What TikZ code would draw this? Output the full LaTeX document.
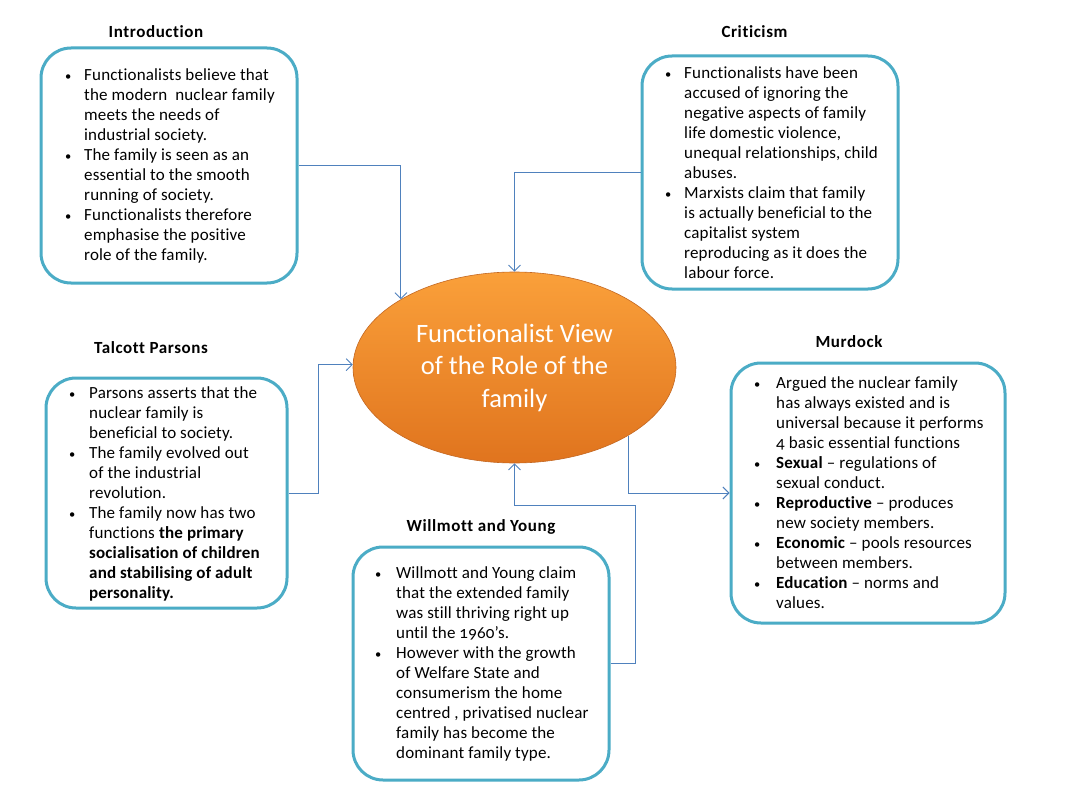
\documentclass[tikz,border=0pt]{standalone}
\usepackage{fontspec}
\setmainfont{Carlito}[Numbers=OldStyle,Ligatures=NoCommon]
\usetikzlibrary{shapes.geometric,arrows.meta}
\definecolor{boxc}{RGB}{75,172,198}
\definecolor{linec}{RGB}{79,129,189}
\definecolor{orT}{RGB}{250,160,58}
\definecolor{orB}{RGB}{224,116,30}
\definecolor{orD}{RGB}{196,104,34}
\newcommand\bu[1]{\llap{\makebox[#1]{\fontsize{12.5}{12}\selectfont\textbullet}}}
\newcommand\fl{\rule{0pt}{14pt}}
\begin{document}
\begin{tikzpicture}[x=1pt,y=-1pt,
  box/.style={draw=boxc,line width=3pt,rounded corners=30pt,inner sep=0pt},
  body/.style={anchor=north west,align=left,inner sep=0pt,font=\fontsize{17}{20}\selectfont\addfontfeature{LetterSpace=1}},
  title/.style={inner sep=0pt,font=\fontsize{17}{20}\selectfont\bfseries\addfontfeature{LetterSpace=3.5}},
  ell/.style={ellipse,minimum width=323pt,minimum height=191pt,inner sep=0pt,
    top color=orT,bottom color=orB,draw=orD,line width=0.6pt,text=white,
    align=center,font=\fontsize{26.5}{32.5}\selectfont},
  conn/.style={draw=linec,line width=0.9pt,-{Straight Barb[length=6pt,width=12pt]}}]
\fill[white] (0,0) rectangle (1080,808);
\useasboundingbox (0,0) rectangle (1080,808);

% boxes
\node[box,minimum width=256pt,minimum height=235pt] (intro) at (169,165.5) {};
\node[box,minimum width=256pt,minimum height=233pt] (crit) at (770,172.5) {};
\node[box,minimum width=241pt,minimum height=230pt] (talc) at (166.5,493) {};
\node[box,minimum width=274pt,minimum height=260pt] (murd) at (868,493) {};
\node[box,minimum width=256pt,minimum height=233pt] (will) at (481,663.5) {};

% titles
\node[title] (tintro) at (156,32) {Introduction};
\node[title] (tcrit) at (754.5,32) {Criticism};
\node[title] (ttalc) at (151,348) {Talcott Parsons};
\node[title] (tmurd) at (849,342) {Murdock};
\node[title] (twill) at (481,527) {Willmott and Young};

% body texts
\node[body] (xintro) at (84,66) {\fl\bu{32pt}Functionalists believe that\\
the modern \ nuclear family\\
meets the needs of\\
industrial society.\\
\bu{32pt}The family is seen as an\\
essential to the smooth\\
running of society.\\
\bu{32pt}Functionalists therefore\\
emphasise the positive\\
role of the family.};

\node[body] (xcrit) at (684,64) {\fl\bu{32pt}Functionalists have been\\
accused of ignoring the\\
negative aspects of family\\
life domestic violence,\\
unequal relationships, child\\
abuses.\\
\bu{32pt}Marxists claim that family\\
is actually beneficial to the\\
capitalist system\\
reproducing as it does the\\
labour force.};

\node[body] (xtalc) at (89,384) {\fl\bu{34pt}Parsons asserts that the\\
nuclear family is\\
beneficial to society.\\
\bu{34pt}The family evolved out\\
of the industrial\\
revolution.\\
\bu{34pt}The family now has two\\
functions \textbf{the primary}\\
\textbf{socialisation of children}\\
\textbf{and stabilising of adult}\\
\textbf{personality.}};

\node[body] (xmurd) at (776,374) {\fl\bu{38pt}Argued the nuclear family\\
has always existed and is\\
universal because it performs\\
4 basic essential functions\\
\bu{38pt}\textbf{Sexual} -- regulations of\\
sexual conduct.\\
\bu{38pt}\textbf{Reproductive} -- produces\\
new society members.\\
\bu{38pt}\textbf{Economic} -- pools resources\\
between members.\\
\bu{38pt}\textbf{Education} -- norms and\\
values.};

\node[body] (xwill) at (396,564) {\fl\bu{36pt}Willmott and Young claim\\
that the extended family\\
was still thriving right up\\
until the 1960’s.\\
\bu{36pt}However with the growth\\
of Welfare State and\\
consumerism the home\\
centred , privatised nuclear\\
family has become the\\
dominant family type.};

% central ellipse
\node[ell] (ell) at (514.5,367.5) {Functionalist View\\of the Role of the\\family};

% connectors
\draw[conn] (intro.east) -| (ell.149.1);
\draw[conn] (crit.west) -| (ell.north);
\draw[conn] (talc.east) -- ++(30,0) |- (ell.179);
\draw[conn] (ell.329.5) |- (murd.west);
\draw[conn] (will.east) -- ++(25,0) |- ([yshift=-42pt]ell.south) -- (ell.south);
\end{tikzpicture}
\end{document}
